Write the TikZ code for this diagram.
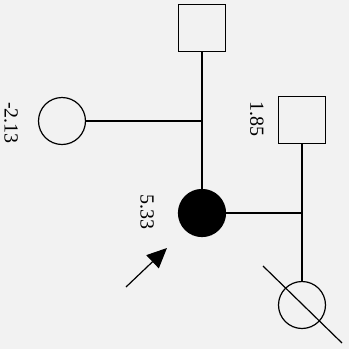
\documentclass[tikz,border=0pt]{standalone}
\usepackage{fontspec}
\setmainfont{Liberation Serif}
\usetikzlibrary{arrows.meta,calc}
\definecolor{paper}{RGB}{242,242,242}
\begin{document}
\begin{tikzpicture}[x=1pt,y=-1pt,
  line width=1.2pt,
  male/.style={draw,rectangle,minimum size=47pt,inner sep=0pt},
  female/.style={draw,circle,minimum size=47pt,inner sep=0pt},
  affected/.style={female,fill=black},
  lbl/.style={rotate=-90,font=\fontsize{20}{24}\selectfont,inner sep=0pt}]
\fill[paper] (0,0) rectangle (349,349);
\useasboundingbox (0,0) rectangle (349,349);
\node[male] (sqA) at (202,28) {};
\node[female] (ocA) at (62,121) {};
\node[affected] (fc) at (202,213) {};
\node[male] (sqB) at (302,120) {};
\node[female] (ocB) at (302,305) {};
\coordinate (j1) at (202,121);
\coordinate (j2) at (302,213);
\draw (sqA) -- (fc);
\draw (ocA) -- (j1);
\draw (fc) -- (j2);
\draw (sqB) -- (ocB);
\draw ($(ocB)+(-39,-39)$) -- ($(ocB)+(40,38)$);
\coordinate (arS) at (126,287);
\coordinate (arE) at (167,248);
\draw[-{Triangle[length=20pt,width=18pt]}] (arS) -- (arE);
\node[lbl] (l1) at (11,123) {-2.13};
\node[lbl] (l2) at (257,119) {1.85};
\node[lbl] (l3) at (147,212) {5.33};
\end{tikzpicture}
\end{document}
